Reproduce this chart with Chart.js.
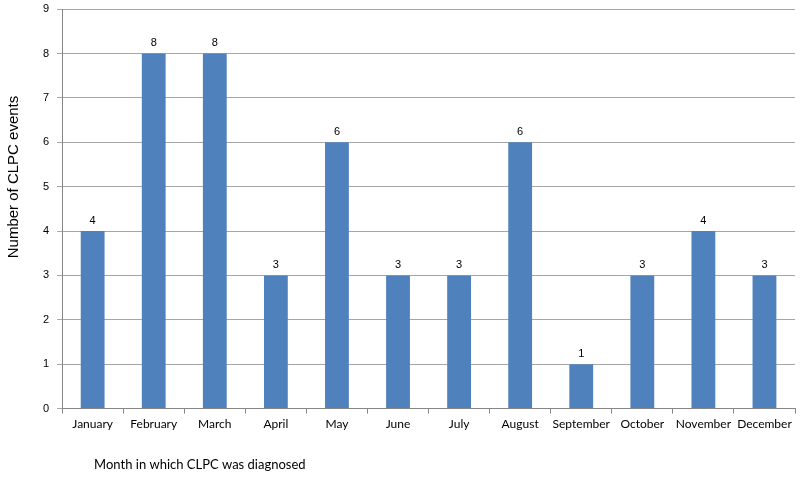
<!DOCTYPE html>
<html>
<head>
<meta charset="utf-8">
<script src="https://cdn.jsdelivr.net/npm/chart.js@4/dist/chart.umd.min.js"></script>
<style>
html,body{margin:0;padding:0;background:#fff;}
#wrap{width:800px;height:477px;position:relative;}
</style>
</head>
<body>
<div id="wrap"><canvas id="c" width="800" height="477"></canvas></div>
<script>
const categories = ["January","February","March","April","May","June","July","August","September","October","November","December"];
const events = [4,8,8,3,6,3,3,6,1,3,4,3];
const yTicks = [0,1,2,3,4,5,6,7,8,9];
const yTitle = "Number of CLPC events";
const xTitle = "Month in which CLPC was diagnosed";

const valueLabels = {
  id: 'valueLabels',
  afterDatasetsDraw(chart) {
    const ctx = chart.ctx;
    const meta = chart.getDatasetMeta(0);
    ctx.save();
    ctx.font = '11px "Liberation Sans", Arial, sans-serif';
    ctx.fillStyle = '#000';
    ctx.textAlign = 'center';
    ctx.textBaseline = 'bottom';
    meta.data.forEach((bar, i) => {
      ctx.fillText(String(chart.data.datasets[0].data[i]), bar.x, bar.y - 5);
    });
    ctx.restore();
  }
};

const axisTitles = {
  id: 'axisTitles',
  afterDraw(chart) {
    const ctx = chart.ctx;
    ctx.save();
    ctx.fillStyle = '#000';
    ctx.font = '13px Lato, "Open Sans", sans-serif';
    ctx.textAlign = 'left';
    ctx.textBaseline = 'middle';
    ctx.fillText(xTitle, chart.chartArea.left + 32, 465);
    ctx.font = '15px "Liberation Sans", Arial, sans-serif';
    ctx.translate(14, 177);
    ctx.rotate(-Math.PI / 2);
    ctx.textAlign = 'center';
    ctx.fillText(yTitle, 0, 0);
    ctx.restore();
  }
};

new Chart(document.getElementById('c'), {
  type: 'bar',
  data: {
    labels: categories,
    datasets: [{
      data: events,
      backgroundColor: '#4F81BD',
      borderWidth: 0,
      categoryPercentage: 1.0,
      barPercentage: 0.39
    }]
  },
  options: {
    responsive: false,
    animation: false,
    devicePixelRatio: 1,
    layout: { padding: { top: 0, right: 5, bottom: 43, left: 35 } },
    plugins: { legend: { display: false }, tooltip: { enabled: false }, title: { display: false } },
    scales: {
      x: {
        offset: true,
        grid: { display: true, drawOnChartArea: false, drawTicks: true, tickLength: 5, offset: true, color: '#868686' },
        border: { display: true, color: '#868686' },
        ticks: { color: '#000', font: { family: 'Lato, "Open Sans", sans-serif', size: 12 }, padding: 3, maxRotation: 0, autoSkip: false }
      },
      y: {
        min: 0, max: 9,
        afterBuildTicks(scale) { scale.ticks = yTicks.map(v => ({ value: v })); },
        grid: { color: '#a6a6a6', tickLength: 5, drawTicks: true },
        border: { display: true, color: '#868686' },
        ticks: { color: '#000', font: { family: '"Liberation Sans", Arial, sans-serif', size: 11, lineHeight: 0.2 }, padding: 8 }
      }
    }
  },
  plugins: [valueLabels, axisTitles]
});
</script>
</body>
</html>
